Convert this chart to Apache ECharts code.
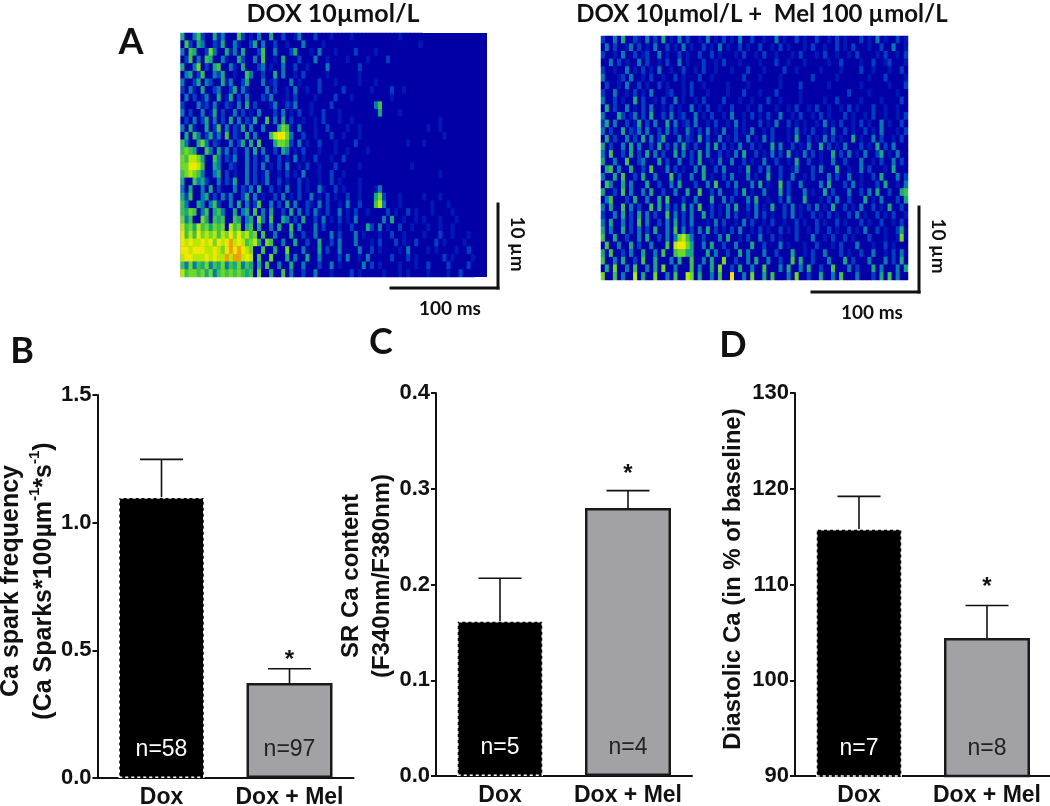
<!DOCTYPE html>
<html><head><meta charset="utf-8">
<style>html,body{margin:0;padding:0;background:#fff}#c{width:1050px;height:806px}</style>
<script src="https://cdn.jsdelivr.net/npm/echarts@6/dist/echarts.min.js"></script>
</head><body><div id="c"></div>
<script>
// Estimated fluorescence level (0-9) per cell
const scanDox = [
"4003520041 3000520103 0040020013 0002000100 0010000000 0000100000",
"0520430021 4003100240 3002001000 3000010000 0000000000 0000000001",
"3054002630 0413040002 5003000240 0010300010 0002000010 0000000000",
"0250305400 3100420030 5001040002 0003001000 0100001000 0200000000",
"4003602045 0031040002 3010030020 0100003000 0000200000 0000000000",
"0340250032 4001005300 2004030010 2000001000 0000100000 0000000000",
"3002403200 4130024000 3012000301 0000200010 0000100010 0000000000",
"2031040023 0024031000 0302001030 0100200000 2000000100 0020010000",
"0302013004 0140203000 2130001020 0001000020 0010000000 0010000000",
"2000312030 0210304020 0013002130 0010000200 0000000035 0000000000",
"3020030140 2003020103 0002030102 0010020001 0000000004 0000100000",
"0203024030 2040302140 0503040200 1001020001 0010000000 0000000000 0000100000",
"3041004025 0302140300 3000465103 0001002000 0100100000 0000000000 0100100000",
"0405302413 0502104030 0057886300 2001000200 1000100000 0000000000 0000010000",
"5300463021 0030240405 0004665203 0100200010 0002000000 0000001000 1000000000",
"5654005304 1302003040 3002043010 2000100010 0100001000 0000000000 0000000000",
"6577640053 0213003020 1300201030 1002000100 2000000000 0000000000 0000000000",
"6688750043 0021003020 3010203001 0200100020 0000100000 0000000100 0000000000",
"5676530034 0201003020 1300102010 3000100200 1000000000 0000000000 0000100000",
"4005342003 0214003020 1300201002 0100100201 0000100000 0000000000",
"3040030402 0003021304 0020103002 0100310020 1000100013 0000000000",
"4250034020 3130024030 1002030102 0030102010 0200100046 2000100000 1000100000",
"5300430352 0030403025 0030204030 0210302001 0300200057 3000100000 0010001000",
"5465035045 3004034050 3040020403 0203102003 0102001000 0201002010 0010000100",
"6350064054 5005403406 3050043020 4002030102 0103000000 3040010010 1000100010",
"7564756465 6075604504 0030400503 0003020001 0020004203 0100200100 0100100100",
"8575867675 7686867560 5003000400 2003000302 0003010001 0020010000 1000200100 010",
"8787787868 7897875674 0650030040 0200400203 0003000102 0002010020 0002010000 10",
"8878887787 6898987600 5004006000 3000402003 0000300201 0000103000 0101000010 02",
"7887778787 7979978705 0060004030 0400300002 0300103000 0020002010 0000020100 001",
"5363546354 6354635404 0500300400 3000200301 0000030201 0000100010 0200002000 020",
"7566564635 6565654506 0040050300 2003000100 0020100000 1000101000 0100001002 000"];
const scanDoxMel = [
"2003040021 0302040103 0200103010 2010300200 1003010020 1002001020 1000201030 100201",
"0302001302 0103002010 3010020103 0100201002 0010201000 1020010020 1020001002 003001",
"2001030020 1200301002 0100200201 0001020010 2001000102 0001020010 0102000010 200102",
"0030201003 0200102003 0100020010 2000100001 0002001000 1000001002 0000100200 120001",
"2001003010 2010300100 2001020010 0010002000 1000020010 0000100001 0000200100 010020",
"3000120300 1020010020 1000200100 0000020001 0000100000 0020000010 0000001000 200001",
"0200103002 0100201000 1020010000 0100001000 0000100002 0000001000 0000100000 010002",
"2003001020 1030001200 1020001000 0100020001 0002000001 0000000000 0200001000 000100",
"3002010040 2001020030 1001020000 2000100100 0200100001 0000010020 0000100001 000020",
"0402003010 2030010201 0030102001 0020001002 0001001020 0102001001 0201000200 100100",
"3000420130 2040020301 2003010200 1030010201 0200300102 0010201000 2010010200 100102",
"2403002014 0203004030 1203001020 0103010002 0103002010 1001030102 0010201003 010020",
"3020040213 0300203020 0310203010 3002010300 1020001030 1020010300 2010020103 000102",
"0402003020 4030240003 0210402003 0102003010 3020001040 0201030201 0040100302 001020",
"4020030403 0020402030 4102003040 2010300201 0040300201 0300402010 3000201040 203000",
"3050020402 0403020040 3020403002 0103040020 1030204010 3020100402 0301030024 010300",
"4003005002 3000402003 0020400103 0030020100 3002001040 0200100300 2000300102 003020",
"0450300400 2050003020 1003040020 3000104002 0300200130 0020300040 0100302000 104000",
"3004050020 4003000502 0030040100 2030003010 0400200300 1020003020 0300100204 000302",
"0530040300 0400200304 0002003050 0203000304 0100502003 0000304000 2030100020 400103",
"4002050300 3040020030 0400500203 0002040100 3000402000 3010040200 0300203040 020045",
"0350002040 0300405000 2003000400 3020003040 0100203000 4000102030 0200040103 000204",
"3040050302 0050403020 4030500201 0304002030 1040020301 0203010400 2010300201 040020",
"2003040204 0302005030 2030040201 0302001030 2010020301 0020102010 0203010020 102001",
"3040030205 0300203040 2030001030 2001030200 1020010020 1002010020 1000201002 001020",
"4030040203 0204003050 3020304020 1020300102 0100201020 0102002010 0201030020 100240",
"5004002003 0400203036 7530020003 0400102003 0020100020 0030010200 2010002000 100160",
"0500300402 0030005078 8640030400 2003000400 2000301000 1002000102 0003000100 201000",
"4050020300 4003050056 6440004030 0200403000 3002000400 1020030002 0100200300 102030",
"5003040020 5004000304 0050030400 6002003040 0300200504 0020003000 4020003000 302040",
"0406003050 0304060030 0050300406 0020400300 5000304003 0400200500 0302000403 000304",
"6005030070 4006003050 0760400305 0080030600 4050003060 0200400305 0003000204 050300"];
const scanLevelColors = ["#0000a6","#0018b4","#0040c0","#0878b0","#18a880","#40c050","#70d828","#b8e808","#f0e800","#f0a000"];

const groups = ["Dox", "Dox + Mel"];
const sparkMean = [1.10, 0.372];
const sparkTop = [1.248, 0.428];
const sparkN = ["n=58", "n=97"];
const srMean = [0.162, 0.28];
const srTop = [0.2065, 0.298];
const srN = ["n=5", "n=4"];
const diaMean = [115.8, 104.4];
const diaTop = [119.2, 107.8];
const diaN = ["n=7", "n=8"];
const signif = ["", "*"];

const ink = "#111";
const arial = "Liberation Sans";
const calibri = "Lato";

const scanCells = rows => {
  const out = [];
  rows.forEach((r, y) => [...r.replace(/ /g, "")].forEach((d, x) => out.push([x, y, +d])));
  return out;
};
const idx = n => Array.from({length:n}, (_, i) => i);

const grids = [
  {left:180.7, top:33, width:306.3, height:244, show:true, backgroundColor:"#0000a6", borderWidth:0},
  {left:601, top:36, width:307, height:244, show:true, backgroundColor:"#0000a6", borderWidth:0},
  {left:97.5, top:395, width:256, height:383},
  {left:436, top:393, width:256, height:383},
  {left:795, top:393, width:256, height:383}
].map(g => Object.assign(g, {outerBoundsMode:"none", containLabel:false}));
const xAxes = [], yAxes = [], series = [];
[scanDox, scanDoxMel].forEach((rows, i) => {
  xAxes.push({type:"category", gridIndex:i, show:false, data:idx(76)});
  yAxes.push({type:"category", gridIndex:i, show:false, inverse:true, data:idx(32)});
  series.push({type:"heatmap", xAxisIndex:i, yAxisIndex:i, data:scanCells(rows), progressive:0, silent:true, animation:false, itemStyle:{borderWidth:0}});
});

const panels = [
  {mean:sparkMean, top:sparkTop, n:sparkN, min:0, max:1.5, step:0.5, dec:1, size:25, lh:33, star:4,
   name:"{t|Ca spark frequency}\n{t|(Ca Sparks*100µm}{s|-1}{t|*s}{s|-1}{t|)}", gap:37, pad:[0,0,0,11]},
  {mean:srMean, top:srTop, n:srN, min:0, max:0.4, step:0.1, dec:1, size:24, lh:31, star:-4,
   name:"{t|SR Ca content}\n{t|(F340nm/F380nm)}", gap:38, pad:[0,0,0,17]},
  {mean:diaMean, top:diaTop, n:diaN, min:90, max:130, step:10, dec:0, size:24, lh:31, star:-6,
   name:"{t|Diastolic Ca (in % of baseline)}", gap:46, pad:[0,0,0,11]}
];
panels.forEach((p, k) => {
  const g = k + 2;
  xAxes.push({type:"category", gridIndex:g, data:groups,
    axisLine:{lineStyle:{color:ink, width:2}}, axisTick:{show:false},
    axisLabel:{color:ink, fontFamily:arial, fontWeight:"bold", fontSize:23, margin:8, interval:0, hideOverlap:false}});
  yAxes.push({type:"value", gridIndex:g, min:p.min, max:p.max, interval:p.step,
    axisLine:{show:true, lineStyle:{color:ink, width:2}},
    axisTick:{show:true, length:5, lineStyle:{color:ink, width:2}},
    splitLine:{show:false},
    axisLabel:{color:ink, fontFamily:arial, fontWeight:"bold", fontSize:22, margin:6, formatter:v => v.toFixed(p.dec)},
    name:p.name, nameLocation:"middle", nameRotate:90, nameGap:p.gap, nameMoveOverlap:false,
    nameTextStyle:{padding:p.pad, lineHeight:p.lh, rich:{
      t:{fontFamily:arial, fontWeight:"bold", fontSize:p.size, color:ink, lineHeight:p.lh},
      s:{fontFamily:arial, fontWeight:"bold", fontSize:15, color:ink, verticalAlign:"top", lineHeight:p.lh}
    }}});
  series.push({type:"bar", xAxisIndex:g, yAxisIndex:g, barWidth:86, animation:false, silent:true,
    data:p.mean.map((v, i) => ({value:v,
      itemStyle: i === 0
        ? {color:"#000", borderColor:"#fff", borderWidth:1.5, borderType:[3,3]}
        : {color:"#a2a1a6", borderColor:"#1a1a1a", borderWidth:2.5},
      label:{color: i === 0 ? "#fff" : "#222"}})),
    label:{show:true, position:"insideBottom", distance:17, fontFamily:arial, fontSize:23,
      formatter:o => p.n[o.dataIndex]}});
  series.push({type:"custom", xAxisIndex:g, yAxisIndex:g, animation:false, silent:true,
    data:p.mean.map((v, i) => [i, v, p.top[i]]),
    encode:{x:0, y:[1,2]},
    renderItem:(params, api) => {
      const a = api.coord([api.value(0), api.value(1)]);
      const b = api.coord([api.value(0), api.value(2)]);
      const st = {stroke:ink, lineWidth:1.6};
      const kids = [
        {type:"line", shape:{x1:a[0], y1:a[1], x2:b[0], y2:b[1]}, style:st},
        {type:"line", shape:{x1:b[0]-21.5, y1:b[1], x2:b[0]+21.5, y2:b[1]}, style:st}
      ];
      const s = signif[api.value(0)];
      if (s) kids.push({type:"text", style:{text:s, x:b[0], y:b[1]+p.star, align:"center", verticalAlign:"bottom",
        font:"bold 24px '"+arial+"'", fill:ink}});
      return {type:"group", children:kids};
    }});
});

const txt = (text, x, y, font, rotation) => ({type:"text", x, y, rotation:rotation||0, silent:true,
  style:{text, font, fill:ink, align:"center", verticalAlign:"middle"}});
const bar = (x1, y1, x2, y2) => ({type:"line", silent:true, shape:{x1,y1,x2,y2}, style:{stroke:ink, lineWidth:3, lineCap:"square"}});
const letter = "bold 36px "+calibri;
const scale = "bold 19px "+calibri;

const chart = echarts.init(document.getElementById("c"), null, {renderer:"canvas"});
chart.setOption({
  animation:false,
  backgroundColor:"#fff",
  grid:grids, xAxis:xAxes, yAxis:yAxes, series,
  visualMap:{show:false, type:"continuous", min:0, max:9, seriesIndex:[0,1],
    inRange:{color:scanLevelColors}},
  graphic:[
    txt("DOX 10µmol/L", 333, 14, "bold 25px "+calibri),
    txt("DOX 10µmol/L +  Mel 100 µmol/L", 762, 14, "bold 24px "+calibri),
    txt("A", 131, 42, letter), txt("B", 22, 351, letter),
    txt("C", 381, 342, letter), txt("D", 733, 345, letter),
    bar(498,204,498,288), bar(391,288,498,288),
    bar(919,207,919,292), bar(812,292,919,292),
    txt("100 ms", 450, 309, scale), txt("100 ms", 872, 313, scale),
    txt("10 µm", 517, 244, scale, -Math.PI/2), txt("10 µm", 938, 246, scale, -Math.PI/2)
  ]
});
</script></body></html>
